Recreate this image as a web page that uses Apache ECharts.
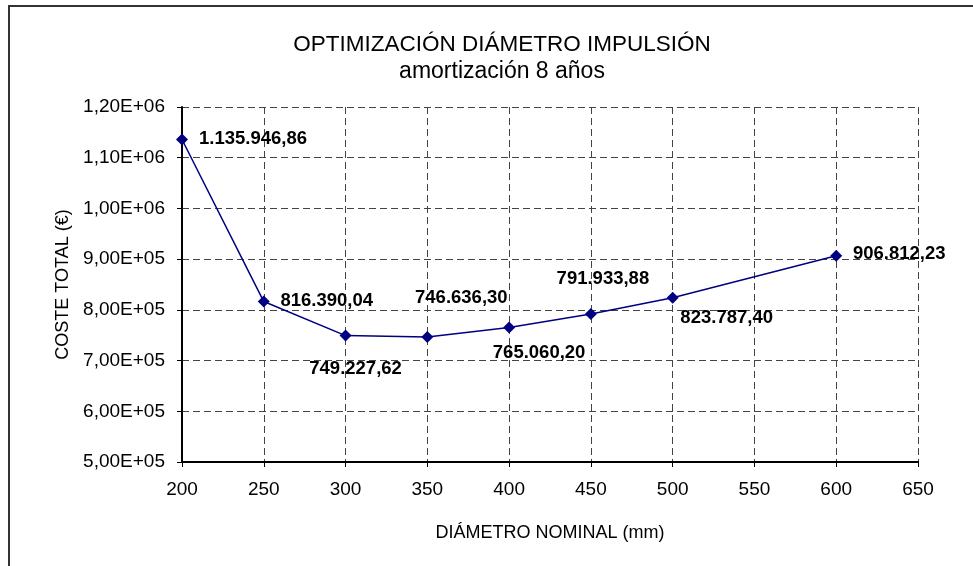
<!DOCTYPE html>
<html>
<head>
<meta charset="utf-8">
<title>Optimización diámetro impulsión</title>
<script src="https://cdn.jsdelivr.net/npm/echarts@6/dist/echarts.min.js"></script>
<style>
  html, body { margin: 0; padding: 0; background: #fff; }
  #chart { width: 973px; height: 566px; }
</style>
</head>
<body>
<div id="chart"></div>
<script>
// diámetro nominal (mm)
var diametros = [200, 250, 300, 350, 400, 450, 500, 600]
// coste total (€)
var costes = [1135946.86, 816390.04, 749227.62, 746636.30, 765060.20, 791933.88, 823787.40, 906812.23]
// where each value label sits, relative to its point (px)
var labelOffsets = [[71, -1], [63, -1], [10, 33], [34, -39], [30, 25], [12, -35], [54, 20], [63, -2]]

var xTicks = { min: 200, max: 650, step: 50 }
var yTicks = { min: 500000, max: 1200000, step: 100000 }

var FONT = 'Arial, "Liberation Sans", sans-serif'
var SYMBOL = 12

// 1135946.86 -> "1.135.946,86"
function formatEs(v) {
  var parts = v.toFixed(2).split('.')
  var ent = parts[0].replace(/\B(?=(\d{3})+(?!\d))/g, '.')
  return ent + ',' + parts[1]
}

// 1200000 -> "1,20E+06"
function formatSci(v) {
  var exp = Math.floor(Math.log10(v))
  var mant = (v / Math.pow(10, exp)).toFixed(2).replace('.', ',')
  return mant + 'E+' + (exp < 10 ? '0' : '') + exp
}

var chart = echarts.init(document.getElementById('chart'))

// label position is taken from the symbol's top-left corner
var puntos = diametros.map(function (d, i) {
  var off = labelOffsets[i]
  return {
    value: [d, costes[i]],
    label: { position: [SYMBOL / 2 + off[0], SYMBOL / 2 + off[1]] }
  }
})

chart.setOption({
  animation: false,
  backgroundColor: '#fff',
  title: {
    text: 'OPTIMIZACIÓN DIÁMETRO IMPULSIÓN',
    subtext: 'amortización 8 años',
    left: 497,
    top: 28,
    textAlign: 'center',
    itemGap: 4,
    textStyle: { fontFamily: FONT, fontSize: 22.5, fontWeight: 'normal', color: '#000' },
    subtextStyle: { fontFamily: FONT, fontSize: 23, color: '#000' }
  },
  grid: {
    left: 182,
    right: 55,
    top: 107,
    bottom: 104
  },
  xAxis: {
    type: 'value',
    min: xTicks.min,
    max: xTicks.max,
    interval: xTicks.step,
    name: 'DIÁMETRO NOMINAL (mm)',
    nameLocation: 'middle',
    nameGap: 62,
    nameTextStyle: { fontFamily: FONT, fontSize: 18, color: '#000' },
    axisLine: { lineStyle: { color: '#000', width: 2 } },
    axisTick: { show: true, length: 5, lineStyle: { color: '#000' } },
    axisLabel: { fontFamily: FONT, fontSize: 19, color: '#000', margin: 18 },
    splitLine: { show: true, lineStyle: { color: '#444', type: [7, 4], width: 1 } }
  },
  yAxis: {
    type: 'value',
    min: yTicks.min,
    max: yTicks.max,
    interval: yTicks.step,
    name: 'COSTE TOTAL (€)',
    nameLocation: 'middle',
    nameGap: 108,
    nameRotate: 90,
    nameTextStyle: { fontFamily: FONT, fontSize: 18, color: '#000' },
    axisLine: { show: true, lineStyle: { color: '#000', width: 2 } },
    axisTick: { show: true, length: 5, lineStyle: { color: '#000' } },
    axisLabel: {
      fontFamily: FONT,
      fontSize: 19,
      color: '#000',
      margin: 17,
      formatter: formatSci
    },
    splitLine: { show: true, lineStyle: { color: '#444', type: [7, 4], width: 1 } }
  },
  series: [{
    type: 'line',
    data: puntos,
    symbol: 'diamond',
    symbolSize: SYMBOL,
    itemStyle: { color: '#000080' },
    lineStyle: { color: '#000080', width: 1.5 },
    label: {
      show: true,
      align: 'center',
      verticalAlign: 'middle',
      fontFamily: FONT,
      fontSize: 18.5,
      fontWeight: 'bold',
      color: '#000',
      formatter: function (p) { return formatEs(p.value[1]) }
    },
    labelLayout: { hideOverlap: false }
  }],
  graphic: [{
    type: 'polyline',
    silent: true,
    shape: { points: [[9, 566], [9, 6], [973, 6]] },
    style: { stroke: '#333', lineWidth: 2, fill: null }
  }]
})
</script>
</body>
</html>
